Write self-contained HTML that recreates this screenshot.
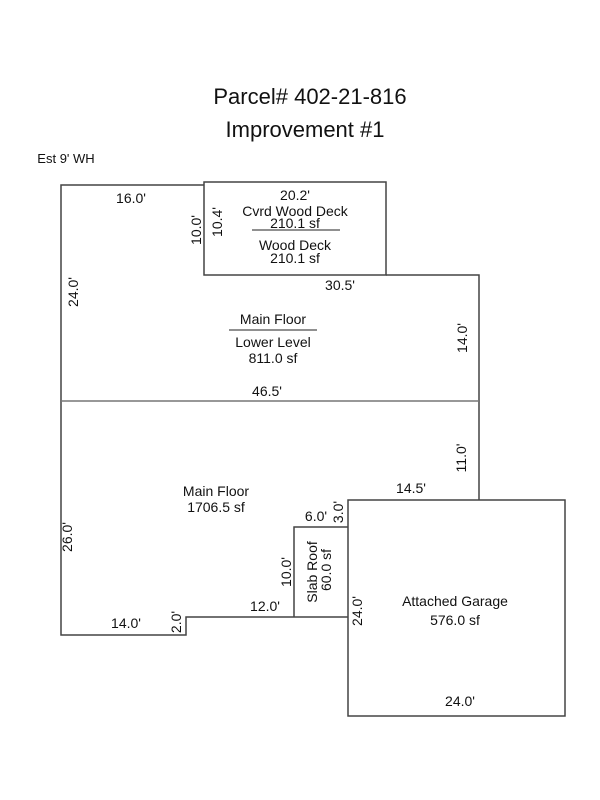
<!DOCTYPE html>
<html><head><style>body{margin:0;background:#fff}svg{display:block}text{font-family:"Liberation Sans",sans-serif;fill:#111}</style></head><body>
<svg width="600" height="800" viewBox="0 0 600 800">
<g fill="none" stroke="#444" stroke-width="1.5">
<polyline points="204,185 61,185 61,635 186,635 186,617 294,617 348,617"/>
<rect x="204" y="182" width="182" height="93"/>
<polyline points="386,275 479,275 479,500"/>
<line x1="61" y1="401" x2="479" y2="401" stroke="#777"/>
<polyline points="348,527 294,527 294,617"/>
<rect x="348" y="500" width="217" height="216"/>
<line x1="252" y1="230" x2="340" y2="230" stroke="#222" stroke-width="1"/>
<line x1="229" y1="330" x2="317" y2="330" stroke="#222" stroke-width="1"/>
</g>
<g font-size="14" text-anchor="middle">
<text x="310" y="104" font-size="22">Parcel# 402-21-816</text>
<text x="305" y="137" font-size="22">Improvement #1</text>
<text x="66" y="163" font-size="13">Est 9' WH</text>
<text x="131" y="203">16.0'</text>
<text x="295" y="200">20.2'</text>
<text x="295" y="216">Cvrd Wood Deck</text>
<text x="295" y="228">210.1 sf</text>
<text x="295" y="250">Wood Deck</text>
<text x="295" y="263">210.1 sf</text>
<text x="340" y="290">30.5'</text>
<text x="273" y="324">Main Floor</text>
<text x="273" y="347">Lower Level</text>
<text x="273" y="363">811.0 sf</text>
<text x="267" y="396">46.5'</text>
<text x="216" y="496">Main Floor</text>
<text x="216" y="512">1706.5 sf</text>
<text x="411" y="493">14.5'</text>
<text x="316" y="521">6.0'</text>
<text x="265" y="611">12.0'</text>
<text x="126" y="628">14.0'</text>
<text x="455" y="606">Attached Garage</text>
<text x="455" y="625">576.0 sf</text>
<text x="460" y="706">24.0'</text>
<text transform="translate(201,230) rotate(-90)">10.0'</text>
<text transform="translate(222,222) rotate(-90)">10.4'</text>
<text transform="translate(78,292) rotate(-90)">24.0'</text>
<text transform="translate(467,338) rotate(-90)">14.0'</text>
<text transform="translate(466,458) rotate(-90)">11.0'</text>
<text transform="translate(72,537) rotate(-90)">26.0'</text>
<text transform="translate(343,512) rotate(-90)">3.0'</text>
<text transform="translate(291,572) rotate(-90)">10.0'</text>
<text transform="translate(317,572) rotate(-90)">Slab Roof</text>
<text transform="translate(331,570) rotate(-90)">60.0 sf</text>
<text transform="translate(181,622) rotate(-90)">2.0'</text>
<text transform="translate(362,611) rotate(-90)">24.0'</text>
</g>
</svg>
</body></html>
